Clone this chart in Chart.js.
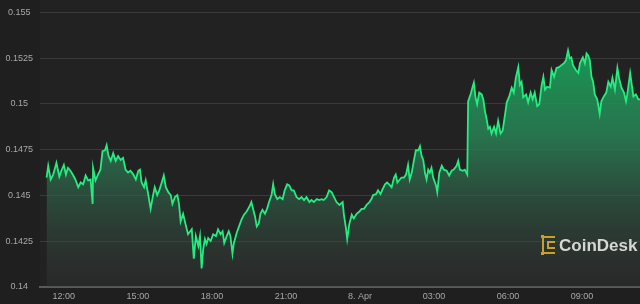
<!DOCTYPE html>
<html>
<head>
<meta charset="utf-8">
<title>Price chart</title>
<script src="https://cdn.jsdelivr.net/npm/chart.js@4.4.1/dist/chart.umd.min.js"></script>
<style>
    html, body { margin: 0; padding: 0; background: #1f1f1f; }
    #wrap { width: 640px; height: 304px; position: relative; }
</style>
</head>
<body>
<div id="wrap"><canvas id="priceChart"></canvas></div>
<script>
// minutes after 12:00 (7 Apr)
const minutes = [
    -42, -38, -32, -26, -18, -11, -6, 0, 5, 10, 16, 23, 29, 35, 41, 47, 53, 59, 65, 70, 71, 77, 83, 89,
    94, 100, 104, 108, 114, 120, 126, 132, 138, 144, 150, 156, 162, 169, 175, 181, 185, 189, 195, 199,
    205, 211, 216, 221, 227, 232, 238, 243, 248, 254, 260, 264, 270, 276, 280, 284, 290, 296, 302,
    311, 316, 321, 327, 331, 335, 339, 343, 347, 351, 357, 363, 370, 375, 381, 386, 390, 396, 401,
    405, 410, 413, 420, 426, 432, 438, 444, 451, 456, 460, 465, 469, 474, 478, 483, 489, 494, 499,
    505, 509, 513, 519, 525, 532, 537, 543, 548, 554, 559, 566, 572, 578, 584, 590, 597, 602, 608,
    615, 621, 627, 632, 639, 645, 651, 657, 663, 670,
    678, 681, 686, 689, 694, 700, 705, 712, 718, 724, 730, 736, 743, 748, 752, 759, 764, 770, 775,
    781, 786, 791, 797, 803, 807, 811, 815, 821, 827, 832, 837, 841, 846, 851, 856, 862, 866, 870,
    874, 878, 882, 886, 890, 894, 898, 905, 908, 913, 919, 924, 931, 937, 943, 948, 955, 959, 963,
    970, 975, 981, 983, 989, 994, 997, 1001, 1005, 1010, 1016, 1020, 1024, 1028, 1032,
    1036, 1040, 1046, 1051, 1056, 1062, 1067, 1073, 1077, 1083, 1089, 1094, 1099, 1105, 1109, 1113,
    1117, 1124, 1129, 1135, 1140, 1145, 1151, 1156, 1162, 1166, 1170, 1175, 1182, 1186, 1192, 1198,
    1204, 1210, 1216, 1221, 1226, 1230, 1234, 1238, 1245, 1251, 1255, 1262, 1267, 1271, 1275, 1279,
    1283, 1287, 1291, 1297, 1303, 1307, 1313, 1319, 1324, 1330, 1334, 1340, 1346, 1350, 1356, 1362,
    1367, 1370, 1377, 1381, 1385, 1391, 1397, 1401
];

const prices = [
    0.14598, 0.14662, 0.14587, 0.14614, 0.14678, 0.14603, 0.14635, 0.14667, 0.14614, 0.14651, 0.14635, 0.14609,
    0.14582, 0.14545, 0.14571, 0.14561, 0.14609, 0.14582, 0.14587, 0.14454, 0.14651, 0.14582, 0.14614, 0.14641,
    0.14742, 0.14747, 0.14774, 0.14721, 0.14689, 0.14731, 0.14689, 0.14715, 0.14694, 0.14705, 0.14641, 0.14625,
    0.14635, 0.14614, 0.14587, 0.14635, 0.14641, 0.14571, 0.14545, 0.14582, 0.14507, 0.14427, 0.14491, 0.14545,
    0.14502, 0.14528, 0.14571, 0.14609, 0.14545, 0.14518, 0.14502, 0.14454, 0.14491, 0.14502, 0.14454, 0.14358,
    0.14400, 0.14342, 0.14288,
    0.14315, 0.14155, 0.14278, 0.14224, 0.14278, 0.14101, 0.14208, 0.14262, 0.14235, 0.14267, 0.14251, 0.14288,
    0.14278, 0.14315, 0.14288, 0.14304, 0.14240, 0.14278, 0.14304, 0.14278, 0.14182, 0.14235, 0.14294, 0.14331,
    0.14368, 0.14395, 0.14411, 0.14438, 0.14464, 0.14427, 0.14384, 0.14331, 0.14347, 0.14400, 0.14422, 0.14400,
    0.14427, 0.14464, 0.14502, 0.14561, 0.14507, 0.14480, 0.14491, 0.14480, 0.14528, 0.14561, 0.14555, 0.14528,
    0.14528, 0.14491, 0.14480, 0.14491, 0.14475, 0.14491, 0.14464, 0.14475, 0.14464, 0.14480, 0.14475, 0.14480,
    0.14475, 0.14491, 0.14528, 0.14518, 0.14491, 0.14464, 0.14448,
    0.14464, 0.14395, 0.14320, 0.14262, 0.14342, 0.14395, 0.14374, 0.14400, 0.14411, 0.14427, 0.14427, 0.14448,
    0.14464, 0.14480, 0.14502, 0.14507, 0.14528, 0.14507, 0.14534, 0.14561, 0.14571, 0.14561, 0.14545, 0.14598,
    0.14614, 0.14571, 0.14582, 0.14598, 0.14598, 0.14614, 0.14667, 0.14587, 0.14625, 0.14689, 0.14747, 0.14747,
    0.14769, 0.14715, 0.14694, 0.14625, 0.14587, 0.14641, 0.14625, 0.14651, 0.14598, 0.14555, 0.14518, 0.14625,
    0.14662, 0.14641, 0.14635, 0.14609, 0.14635, 0.14641, 0.14662, 0.14689, 0.14641, 0.14635, 0.14641, 0.14614,
    0.15014, 0.15052, 0.15094, 0.15116, 0.15036, 0.14998, 0.15062, 0.15052, 0.15025, 0.14961, 0.14918, 0.14865,
    0.14875, 0.14838, 0.14875, 0.14838, 0.14907, 0.14838, 0.14854, 0.14945, 0.15009, 0.15041, 0.15089, 0.15062,
    0.15142, 0.15201, 0.15105, 0.15121, 0.15036, 0.15052, 0.15009, 0.15062, 0.15025, 0.15062, 0.14988, 0.14998,
    0.15105, 0.15148, 0.15078, 0.15094, 0.15089, 0.15185, 0.15148, 0.15196, 0.15201, 0.15212, 0.15222, 0.15238,
    0.15292, 0.15249, 0.15254, 0.15212, 0.15185, 0.15169, 0.15222, 0.15254, 0.15222, 0.15276, 0.15265, 0.15238,
    0.15148, 0.15121, 0.15052, 0.15025, 0.14945, 0.15014, 0.15041, 0.15062, 0.15121, 0.15094, 0.15142, 0.15078,
    0.15196, 0.15142, 0.15089, 0.15062, 0.15014, 0.15052, 0.15169, 0.15105, 0.15041, 0.15052, 0.15025, 0.15025
];

const tickMinutes = [0, 180, 360, 540, 720, 900, 1080, 1260];
const tickLabels = ['12:00', '15:00', '18:00', '21:00', '8. Apr', '03:00', '06:00', '09:00'];
const yTicks = [0.14, 0.1425, 0.145, 0.1475, 0.15, 0.1525, 0.155];

const points = minutes.map((m, i) => ({ x: m, y: prices[i] }));

// chart area background + CoinDesk mark
const backdrop = {
    id: 'backdrop',
    beforeDraw(chart) {
        const { ctx, chartArea: a } = chart;
        ctx.save();
        ctx.fillStyle = '#222222';
        ctx.fillRect(a.left, 0, a.right - a.left, a.bottom);
        ctx.restore();
    },
    afterDatasetsDraw(chart) {
        const { ctx, chartArea: a } = chart;
        const x = a.right - 99, y = a.bottom - 42;
        ctx.save();
        ctx.strokeStyle = '#c9a12a';
        ctx.lineWidth = 2;
        ctx.beginPath();
        ctx.moveTo(x + 14, y - 8);
        ctx.lineTo(x + 2, y - 8);
        ctx.lineTo(x + 2, y + 8);
        ctx.lineTo(x + 14, y + 8);
        ctx.moveTo(x + 14, y - 3);
        ctx.lineTo(x + 7, y - 3);
        ctx.lineTo(x + 7, y + 3);
        ctx.lineTo(x + 14, y + 3);
        ctx.stroke();
        ctx.fillStyle = '#c9a12a';
        ctx.fillRect(x, y - 10, 3, 3);
        ctx.fillRect(x, y + 7, 3, 3);
        ctx.fillStyle = '#d6d6d6';
        ctx.font = 'bold 17px "Liberation Sans", Arial, sans-serif';
        ctx.textBaseline = 'middle';
        ctx.fillText('CoinDesk', x + 18, y + 1);
        ctx.restore();
    }
};

new Chart(document.getElementById('priceChart'), {
    type: 'line',
    data: {
        datasets: [{
            data: points,
            borderColor: '#26ec80',
            borderWidth: 1.8,
            pointRadius: 0,
            tension: 0,
            fill: 'start',
            backgroundColor: (context) => {
                const a = context.chart.chartArea;
                if (!a) return 'rgba(30,160,90,0.5)';
                const g = context.chart.ctx.createLinearGradient(0, a.top, 0, a.bottom);
                g.addColorStop(0, 'rgba(20,168,86,1)');
                g.addColorStop(0.45, 'rgba(40,130,85,0.85)');
                g.addColorStop(1, 'rgba(60,60,60,0.25)');
                return g;
            }
        }]
    },
    options: {
        responsive: true,
        maintainAspectRatio: false,
        animation: false,
        layout: { padding: { top: 6, right: 0, left: 0, bottom: 0 } },
        plugins: { legend: { display: false }, tooltip: { enabled: false } },
        scales: {
            x: {
                type: 'linear',
                min: -58,
                max: 1401,
                afterBuildTicks: (scale) => { scale.ticks = tickMinutes.map(v => ({ value: v })); },
                afterFit: (scale) => { scale.height = 17; },
                grid: { display: false, drawTicks: false },
                border: { color: '#5a5a5a', width: 2 },
                ticks: {
                    autoSkip: false,
                    maxRotation: 0,
                    padding: 4,
                    color: '#a8a8a8',
                    font: { family: '"Liberation Sans", Arial, sans-serif', size: 9 },
                    callback: (v) => tickLabels[tickMinutes.indexOf(v)]
                }
            },
            y: {
                min: 0.14,
                max: 0.155,
                afterBuildTicks: (scale) => { scale.ticks = yTicks.map(v => ({ value: v })); },
                afterFit: (scale) => { scale.width = 40; },
                grid: { color: '#3a3a3a', drawTicks: false },
                border: { display: false },
                ticks: {
                    crossAlign: 'center',
                    padding: 7,
                    color: '#a8a8a8',
                    font: { family: '"Liberation Sans", Arial, sans-serif', size: 9 },
                    callback: (v) => String(v)
                }
            }
        }
    },
    plugins: [backdrop]
});
</script>
</body>
</html>
